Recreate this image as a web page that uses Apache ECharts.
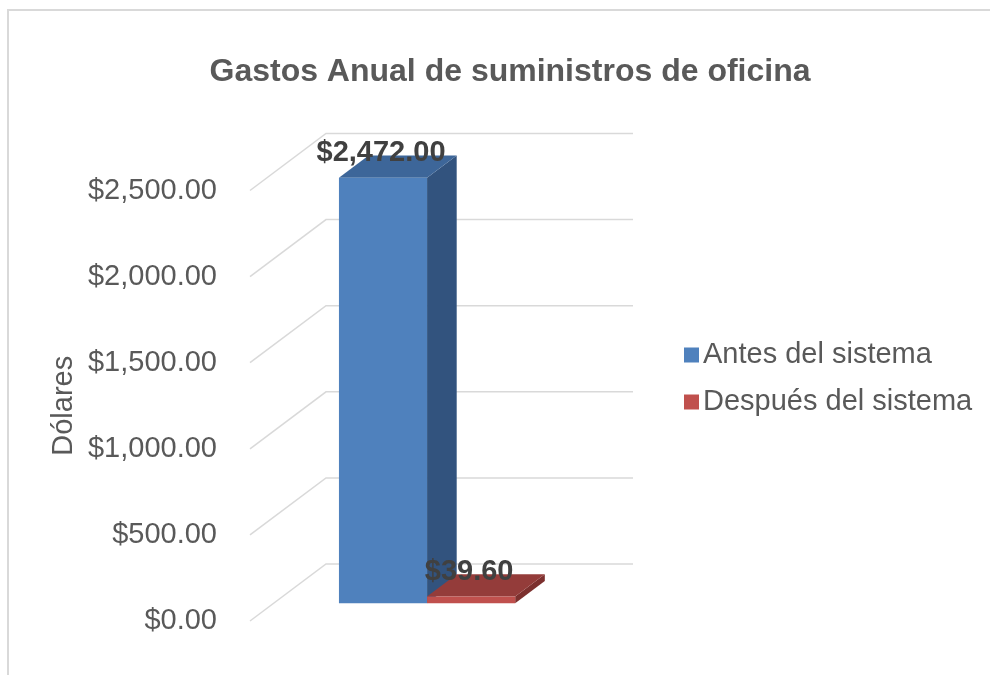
<!DOCTYPE html>
<html>
<head>
<meta charset="utf-8">
<script src="https://cdn.jsdelivr.net/npm/echarts@6/dist/echarts.min.js"></script>
<style>
  html, body { margin: 0; padding: 0; background: #ffffff; }
  #chart { width: 990px; height: 675px; }
</style>
</head>
<body>
<div id="chart"></div>
<script>
// Annual office supplies spending, before and after the system
const categories = ['Gastos anuales'];
const seriesNames = ['Antes del sistema', 'Después del sistema'];
const antesValues = [2472.00];
const despuesValues = [39.60];
const yTicks = [0, 500, 1000, 1500, 2000, 2500];

// Face colours for the 3D blocks: front, top, side
const palettes = [
  { front: '#4f81bd', top: '#3d6699', side: '#32537e' },
  { front: '#c0504d', top: '#943c3a', side: '#7c302e' }
];

// Perspective depth of the floor/walls, in pixels
const DEPTH_X = 76;
const DEPTH_Y = -57;
// Bars occupy the middle slice of that depth
const BAR_FRONT = 0.31;
const BAR_BACK = 0.70;
const BAR_FRACTION = 0.287; // width of one bar relative to the category band

const money = v => '$' + v.toLocaleString('en-US', { minimumFractionDigits: 2, maximumFractionDigits: 2 });

const chart = echarts.init(document.getElementById('chart'), null, { renderer: 'canvas' });

// Floor/back-wall gridline: diagonal from the value axis, then along the back wall
function gridRender(params, api) {
  const cs = params.coordSys;
  const v = api.value(0);
  const y = api.coord([0, v])[1];
  const x0 = cs.x;
  const x1 = cs.x + cs.width;
  return {
    type: 'polyline',
    shape: { points: [[x0, y], [x0 + DEPTH_X, y + DEPTH_Y], [x1 + DEPTH_X, y + DEPTH_Y]] },
    style: { stroke: '#d9d9d9', lineWidth: 1.5, fill: null },
    silent: true
  };
}

// Geometry of one block in screen space
function blockGeom(idx, api, cat, val) {
  const base = api.coord([cat, 0]);
  const top = api.coord([cat, val]);
  const band = api.size([1, 0])[0];
  const w = band * BAR_FRACTION;
  const left = base[0] + (idx === 0 ? -w : 0);
  const right = left + w;
  return {
    left, right, yb: base[1], yt: top[1],
    fx: BAR_FRONT * DEPTH_X, fy: BAR_FRONT * DEPTH_Y,
    bx: BAR_BACK * DEPTH_X, by: BAR_BACK * DEPTH_Y
  };
}

function makeBarRender(idx) {
  const pal = palettes[idx];
  return function (params, api) {
    const g = blockGeom(idx, api, api.value(0), api.value(1));
    const { left, right, yb, yt, fx, fy, bx, by } = g;
    const front = [[left + fx, yt + fy], [right + fx, yt + fy], [right + fx, yb + fy], [left + fx, yb + fy]];
    const topFace = [[left + fx, yt + fy], [right + fx, yt + fy], [right + bx, yt + by], [left + bx, yt + by]];
    const side = [[right + fx, yt + fy], [right + bx, yt + by], [right + bx, yb + by], [right + fx, yb + fy]];
    return {
      type: 'group',
      children: [
        { type: 'polygon', shape: { points: side }, style: { fill: pal.side } },
        { type: 'polygon', shape: { points: topFace }, style: { fill: pal.top } },
        { type: 'polygon', shape: { points: front }, style: { fill: pal.front } }
      ]
    };
  };
}

// Value labels sit above the top face of each block
function labelRender(params, api) {
  const idx = api.value(0);
  const val = api.value(1);
  const g = blockGeom(idx, api, 0, val);
  return {
    type: 'text',
    x: (g.left + g.right) / 2 + g.fx - 2,
    y: g.yt + g.by - 2,
    style: {
      text: money(val),
      font: 'bold 29px "Liberation Sans", Arial, sans-serif',
      fill: '#404040',
      align: 'center',
      verticalAlign: 'middle'
    }
  };
}

const option = {
  animation: false,
  backgroundColor: '#ffffff',
  textStyle: { fontFamily: '"Liberation Sans", Arial, sans-serif' },
  title: {
    text: 'Gastos Anual de suministros de oficina',
    left: 505,
    textAlign: 'center',
    top: 51,
    textStyle: { fontSize: 32, fontWeight: 'bold', color: '#595959', fontFamily: '"Liberation Sans", Arial, sans-serif' }
  },
  legend: {
    orient: 'vertical',
    left: 679,
    top: 334,
    itemWidth: 15,
    itemHeight: 15,
    itemGap: 15,
    icon: 'rect',
    data: seriesNames,
    textStyle: { fontSize: 29, color: '#595959', lineHeight: 32, padding: [0, 0, 0, -1] },
    selectedMode: false
  },
  graphic: [
    {
      type: 'rect',
      shape: { x: 8, y: 10, width: 1000, height: 700 },
      style: { fill: null, stroke: '#d9d9d9', lineWidth: 2 },
      silent: true
    }
  ],
  grid: { left: 250, right: 433, top: 190.5, bottom: 54, containLabel: false },
  xAxis: {
    type: 'category',
    data: categories,
    axisLine: { show: false },
    axisTick: { show: false },
    axisLabel: { show: false },
    splitLine: { show: false }
  },
  yAxis: {
    type: 'value',
    min: 0,
    max: 2500,
    interval: 500,
    name: 'Dólares',
    nameLocation: 'middle',
    nameGap: 172,
    nameRotate: 90,
    nameTextStyle: { fontSize: 29, color: '#595959' },
    axisLine: { show: false },
    axisTick: { show: false },
    splitLine: { show: false },
    axisLabel: { fontSize: 29, color: '#595959', margin: 33, formatter: v => money(v) }
  },
  series: [
    {
      type: 'custom',
      name: 'gridlines',
      renderItem: gridRender,
      data: yTicks.map(v => [v]),
      encode: { y: 0 },
      silent: true,
      z: 1
    },
    {
      type: 'custom',
      name: seriesNames[0],
      itemStyle: { color: palettes[0].front },
      renderItem: makeBarRender(0),
      data: antesValues.map((v, i) => [i, v]),
      encode: { x: 0, y: 1 },
      z: 2
    },
    {
      type: 'custom',
      name: seriesNames[1],
      itemStyle: { color: palettes[1].front },
      renderItem: makeBarRender(1),
      data: despuesValues.map((v, i) => [i, v]),
      encode: { x: 0, y: 1 },
      z: 3
    },
    {
      type: 'custom',
      name: 'valueLabels',
      renderItem: labelRender,
      data: [[0, antesValues[0]], [1, despuesValues[0]]],
      encode: { y: 1 },
      silent: true,
      z: 10
    }
  ]
};

chart.setOption(option);
</script>
</body>
</html>
